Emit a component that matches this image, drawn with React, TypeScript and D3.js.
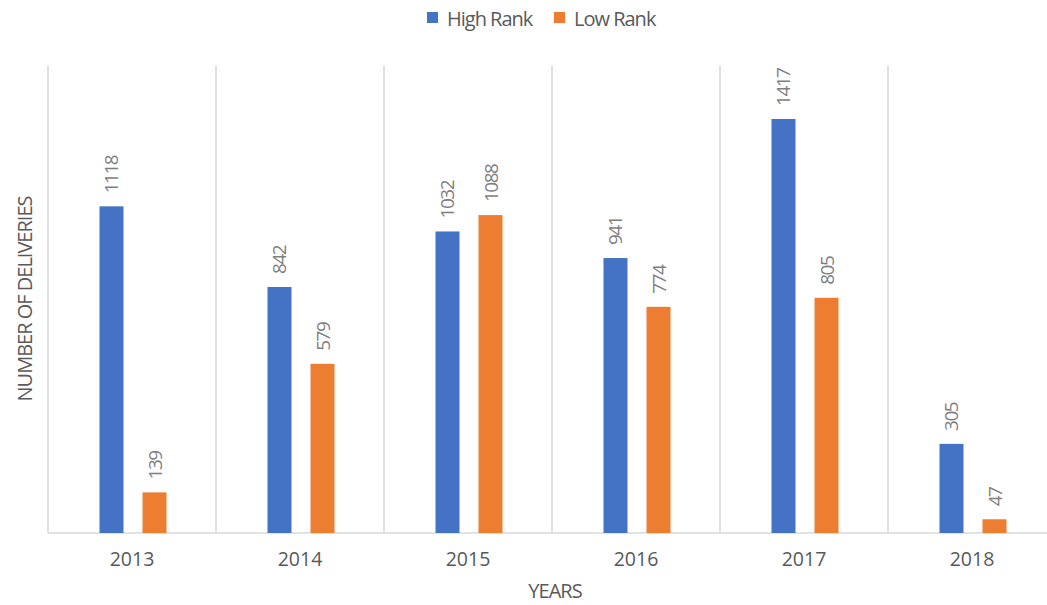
import React from "react";
import * as d3 from "d3";

const years = ["2013", "2014", "2015", "2016", "2017", "2018"];
const highRank = [1118, 842, 1032, 941, 1417, 305];
const lowRank = [139, 579, 1088, 774, 805, 47];
const seriesNames = ["High Rank", "Low Rank"];
const colors = ["#4472C4", "#ED7D31"];

const W = 1047;
const H = 605;
const left = 48;
const right = 1056;
const top = 65.5;
const bottom = 533;
const FONT = "'Open Sans', 'Noto Sans', sans-serif";

export default function App() {
  const x = d3.scaleBand<string>().domain(years).range([left, right]);
  const groupW = 67;
  const inner = d3.scaleBand<number>().domain([0, 1]).range([0, groupW]).paddingInner(0.442).paddingOuter(0);
  const y = d3.scaleLinear().domain([0, 1600]).range([bottom, top]);
  const series = [highRank, lowRank];
  const groupOffset = (x.bandwidth() - groupW) / 2 + 1;

  return (
    <svg width={W} height={H} style={{ position: "absolute", left: 0, top: 0, background: "#fff" }}>
      {[...years.map((yr) => x(yr)!), right].map((gx, i) => (
        <line key={i} x1={gx} x2={gx} y1={top} y2={bottom} stroke="#d9d9d9" strokeWidth={1.5} />
      ))}
      <line x1={left} x2={right} y1={bottom} y2={bottom} stroke="#d9d9d9" strokeWidth={1.5} />
      {series.map((vals, si) =>
        vals.map((v, i) => {
          const bx = x(years[i])! + groupOffset + inner(si)!;
          const bw = inner.bandwidth();
          const by = y(v);
          const cx = bx + bw / 2;
          const ly = by - 13;
          return (
            <g key={`${si}-${i}`}>
              <rect x={bx} y={by} width={bw} height={bottom - by} fill={colors[si]} />
              <text
                transform={`translate(${cx + 7},${ly}) rotate(-90)`}
                fontFamily={FONT}
                fontSize={19}
                letterSpacing={-1.5}
                fill="#7f7f7f"
                textAnchor="start"
              >
                {v}
              </text>
            </g>
          );
        })
      )}
      {years.map((yr) => (
        <text
          key={yr}
          x={x(yr)! + x.bandwidth() / 2}
          y={566}
          textAnchor="middle"
          fontFamily={FONT}
          fontSize={19.5}
          fill="#595959"
        >
          {yr}
        </text>
      ))}
      <text x={555} y={598} textAnchor="middle" fontFamily={FONT} fontSize={20} fill="#595959" letterSpacing={-1}>
        YEARS
      </text>
      <text
        transform={`translate(32,299) rotate(-90)`}
        textAnchor="middle"
        fontFamily={FONT}
        fontSize={20}
        fill="#595959"
        letterSpacing={-1}
      >
        NUMBER OF DELIVERIES
      </text>
      {seriesNames.map((name, i) => {
        const lx = i === 0 ? 427 : 554;
        return (
          <g key={name}>
            <rect x={lx} y={12} width={11} height={11} fill={colors[i]} />
            <text x={lx + 20} y={26} fontFamily={FONT} fontSize={20} fill="#595959" letterSpacing={-1}>
              {name}
            </text>
          </g>
        );
      })}
    </svg>
  );
}
